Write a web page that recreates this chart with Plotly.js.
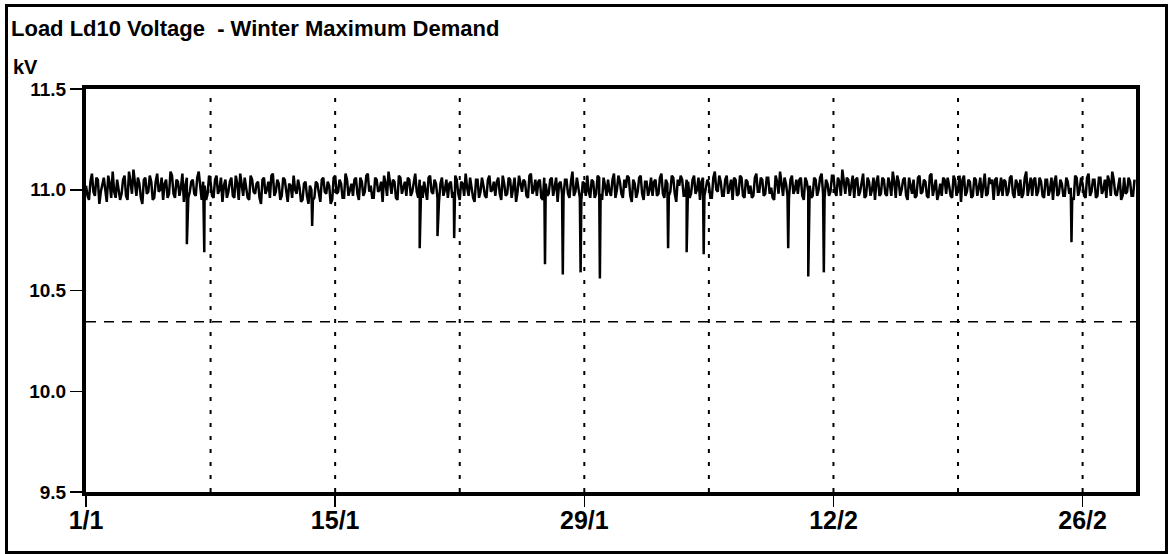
<!DOCTYPE html>
<html>
<head>
<meta charset="utf-8">
<script src="https://cdn.plot.ly/plotly-3.0.1.min.js"></script>
<style>
  html, body { margin: 0; padding: 0; background: #fff; }
  #wrap { position: relative; width: 1170px; height: 554px; }
  #frame { position: absolute; left: 5px; top: 4px; width: 1163px; height: 550px; border: 3px solid #000; box-sizing: border-box; pointer-events: none; }
  #chart { position: absolute; left: 0; top: 0; width: 1170px; height: 554px; }
</style>
</head>
<body>
<div id="wrap">
  <div id="frame"></div>
  <div id="chart"></div>
</div>
<script>
// ---- Data ----
const chartTitle = 'Load Ld10 Voltage  - Winter Maximum Demand';
const yUnit = 'kV';
const seriesStart = '2001-01-01 00:00';
const stepHours = 4;               // each list holds six readings per day
const midOffsetHours = 2;          // second list is taken between the first
// Voltage readings (kV) at 00,04,08,12,16,20 h, one line per day, 1 Jan .. 28 Feb
const baseVoltage = [
  11.02, 10.95, 11.08, 10.97, 11.05, 10.99,
  11.06, 10.94, 11.03, 11.09, 10.96, 11.01,
  10.98, 11.07, 10.95, 11.04, 11.10, 10.97,
  11.03, 10.93, 11.06, 10.99, 11.04, 10.96,
  11.08, 11.00, 10.95, 11.05, 10.98, 11.07,
  10.96, 11.04, 11.01, 10.94, 11.06, 10.99,
  11.05, 10.97, 11.09, 10.95, 11.02, 10.98,
  11.04, 10.96, 11.07, 11.00, 10.94, 11.05,
  10.99, 11.06, 10.96, 11.03, 11.08, 10.97,
  11.02, 10.95, 11.05, 10.98, 11.04, 10.93,
  11.06, 11.00, 10.96, 11.08, 10.99, 11.03,
  10.97, 11.05, 10.94, 11.02, 11.07, 10.98,
  11.01, 10.95, 11.04, 10.93, 11.00, 10.96,
  11.03, 10.94, 11.06, 10.98, 11.02, 10.95,
  11.07, 10.99, 11.03, 10.96, 11.05, 11.00,
  10.97, 11.06, 10.95, 11.04, 10.99, 11.08,
  11.02, 10.96, 11.05, 11.00, 10.94, 11.03,
  11.09, 10.98, 11.04, 10.95, 11.06, 11.01,
  10.97, 11.05, 10.99, 11.08, 10.96, 11.02,
  11.04, 10.95, 11.07, 10.98, 11.03, 10.94,
  11.06, 11.00, 10.96, 11.04, 10.99, 11.05,
  10.95, 11.03, 11.08, 10.97, 11.01, 10.94,
  11.05, 10.99, 11.02, 10.96, 11.07, 11.00,
  10.97, 11.06, 10.95, 11.03, 10.98, 11.05,
  11.01, 10.94, 11.07, 10.99, 11.04, 10.96,
  11.08, 11.00, 10.97, 11.05, 10.95, 11.03,
  10.98, 11.06, 11.01, 10.94, 11.04, 10.97,
  11.05, 10.96, 11.09, 10.99, 11.02, 10.95,
  11.03, 11.07, 10.96, 11.04, 10.98, 11.06,
  10.95, 11.02, 11.05, 10.97, 11.08, 11.00,
  11.04, 10.96, 11.01, 11.06, 10.94, 11.03,
  10.99, 11.07, 10.95, 11.04, 11.00, 10.97,
  11.05, 10.98, 11.08, 10.96, 11.03, 10.99,
  11.06, 10.94, 11.02, 11.05, 10.97, 11.04,
  10.98, 11.07, 11.00, 10.95, 11.06, 11.01,
  11.03, 10.96, 11.09, 10.99, 11.04, 10.97,
  11.07, 11.01, 10.95, 11.05, 10.98, 11.06,
  10.96, 11.04, 11.02, 10.97, 11.08, 10.99,
  11.05, 10.98, 11.06, 11.01, 10.95, 11.04,
  11.09, 10.97, 11.03, 10.96, 11.07, 11.00,
  10.98, 11.06, 10.95, 11.04, 11.02, 10.97,
  11.05, 11.00, 11.08, 10.96, 11.03, 10.99,
  11.07, 10.97, 11.04, 11.10, 10.98, 11.05,
  11.01, 10.96, 11.06, 10.99, 11.08, 10.97,
  11.04, 11.00, 10.95, 11.07, 10.98, 11.05,
  10.97, 11.03, 11.09, 10.96, 11.04, 11.00,
  11.06, 10.95, 11.02, 11.05, 10.97, 11.07,
  10.99, 11.04, 10.96, 11.08, 11.01, 10.95,
  11.03, 11.06, 10.98, 11.02, 10.96, 11.05,
  11.00, 10.94, 11.07, 10.99, 11.04, 10.97,
  11.05, 11.01, 10.96, 11.08, 10.98, 11.03,
  10.95, 11.06, 11.00, 10.97, 11.04, 10.99,
  11.07, 10.96, 11.03, 11.05, 10.98, 11.09,
  11.01, 10.97, 11.06, 10.99, 11.04, 10.96,
  11.05, 11.00, 10.95, 11.07, 10.98, 11.03,
  10.97, 11.04, 11.01, 10.95, 11.06, 11.00,
  11.03, 10.96, 11.08, 10.99, 11.05, 10.97,
  11.06, 11.00, 10.96, 11.04, 11.09, 10.98,
  11.02, 10.95, 11.06, 10.99, 11.04, 10.97
];
// Voltage readings (kV) at 02,06,10,14,18,22 h, one line per day
const midVoltage = [
  10.97, 11.04, 10.99, 11.06, 10.93, 11.03,
  11.00, 11.07, 10.96, 10.99, 11.05, 10.95,
  11.05, 10.97, 11.09, 10.98, 11.02, 11.06,
  10.96, 11.05, 10.98, 11.07, 10.95, 11.04,
  10.99, 11.06, 11.03, 10.96, 11.09, 10.98,
  11.05, 10.97, 11.08, 11.02, 10.96, 11.04,
  10.98, 11.06, 11.00, 11.04, 10.95, 11.07,
  10.97, 11.05, 10.98, 11.06, 11.02, 10.96,
  11.04, 10.97, 11.07, 10.95, 11.01, 11.06,
  10.96, 11.07, 10.99, 11.03, 10.96, 11.05,
  10.98, 11.04, 11.07, 10.97, 11.05, 10.95,
  11.06, 10.99, 11.03, 10.96, 11.00, 11.05,
  10.94, 11.03, 10.97, 11.02, 10.95, 11.04,
  10.97, 11.05, 10.99, 11.04, 10.93, 11.06,
  10.98, 11.05, 10.96, 11.08, 10.97, 11.03,
  11.05, 10.98, 11.06, 10.97, 11.07, 10.99,
  10.96, 11.06, 10.99, 11.04, 11.07, 10.97,
  11.02, 11.05, 10.96, 11.07, 10.98, 11.04,
  11.06, 10.97, 11.04, 10.99, 11.05, 10.96,
  10.98, 11.06, 10.99, 11.05, 10.96, 11.03,
  10.97, 11.05, 11.03, 10.96, 11.07, 10.98,
  11.04, 10.97, 11.01, 11.06, 10.96, 11.05,
  10.96, 11.06, 10.97, 11.05, 10.99, 11.04,
  11.04, 10.98, 11.07, 10.97, 11.06, 10.96,
  11.06, 10.99, 11.02, 11.05, 10.97, 11.07,
  10.98, 11.05, 11.04, 10.96, 11.06, 10.97,
  11.05, 10.97, 11.06, 11.03, 10.98, 11.05,
  10.98, 11.04, 10.97, 11.06, 10.96, 11.04,
  10.97, 10.99, 11.05, 10.96, 11.07, 10.98,
  11.06, 10.97, 10.99, 11.05, 10.96, 11.07,
  10.98, 11.05, 11.07, 10.97, 11.05, 10.96,
  11.06, 10.98, 11.04, 10.97, 11.06, 11.04,
  10.97, 11.06, 10.98, 11.05, 10.97, 11.07,
  10.98, 11.05, 11.07, 10.97, 11.05, 10.96,
  11.05, 10.98, 11.06, 11.04, 10.97, 11.05,
  10.96, 11.06, 11.00, 11.07, 10.97, 11.05,
  10.98, 11.05, 11.06, 10.97, 11.07, 10.97,
  11.05, 10.98, 10.96, 11.06, 10.99, 11.06,
  10.97, 11.06, 10.98, 10.96, 11.07, 10.98,
  11.02, 11.06, 10.97, 11.05, 10.98, 11.05,
  11.05, 10.97, 11.06, 10.99, 10.96, 11.06,
  10.97, 11.06, 10.98, 11.05, 10.97, 11.07,
  10.99, 11.06, 10.97, 11.04, 11.06, 10.97,
  11.07, 11.05, 10.97, 11.05, 10.96, 11.06,
  10.97, 11.06, 11.04, 10.97, 11.06, 10.98,
  11.06, 10.97, 11.04, 11.07, 10.97, 11.05,
  10.97, 11.06, 10.98, 10.96, 11.06, 10.98,
  11.05, 10.97, 11.07, 10.97, 11.05, 10.98,
  10.97, 11.05, 11.06, 10.97, 11.07, 10.97,
  11.07, 11.05, 10.97, 11.05, 10.96, 11.06,
  10.97, 11.06, 11.04, 10.97, 11.06, 11.05,
  11.05, 10.97, 11.06, 11.05, 10.97, 11.06,
  10.98, 11.05, 10.97, 10.96, 11.06, 10.97,
  11.06, 11.05, 10.97, 11.06, 10.97, 11.05,
  10.97, 11.06, 11.04, 10.97, 11.05, 10.97,
  11.06, 10.98, 10.96, 11.07, 10.97, 11.06,
  10.97, 11.06, 10.97, 11.05, 10.96, 11.06,
  10.98, 11.05, 11.07, 10.97, 11.05, 10.97,
  11.06, 10.97, 10.98, 11.06, 10.97, 11.05
];
// Short voltage dips
const dipTimes = [
  '2001-01-06 16:00', '2001-01-07 15:30', '2001-01-13 17:00',
  '2001-01-19 18:00', '2001-01-20 18:00', '2001-01-21 16:30',
  '2001-01-26 19:00', '2001-01-27 19:00', '2001-01-28 19:00', '2001-01-29 21:00',
  '2001-02-02 17:00', '2001-02-03 18:00', '2001-02-04 17:00',
  '2001-02-09 11:00', '2001-02-10 14:00', '2001-02-11 11:00',
  '2001-02-25 09:00'
];
const dipValues = [
  10.73, 10.69, 10.82,
  10.71, 10.77, 10.76,
  10.63, 10.58, 10.59, 10.56,
  10.71, 10.69, 10.68,
  10.71, 10.57, 10.59,
  10.74
];
const referenceLevel = 10.345;     // dashed horizontal limit line
const weekLines = ['2001-01-08', '2001-01-15', '2001-01-22', '2001-01-29',
                   '2001-02-05', '2001-02-12', '2001-02-19', '2001-02-26'];
const xTickVals = ['2001-01-01', '2001-01-15', '2001-01-29', '2001-02-12', '2001-02-26'];
const xTickText = ['1/1', '15/1', '29/1', '12/2', '26/2'];
const xRange = ['2001-01-01', '2001-03-01'];
const yRange = [9.5, 11.5];
const yTicks = [9.5, 10.0, 10.5, 11.0, 11.5];

// ---- Build the series (readings merged with dips, in time order) ----
function toMs(s) { return new Date(s.replace(' ', 'T') + ':00Z').getTime(); }
const H = 3600000;
const t0 = toMs(seriesStart);
const pts = [];
baseVoltage.forEach((v, i) => pts.push([t0 + i * stepHours * H, v]));
midVoltage.forEach((v, i) => pts.push([t0 + (i * stepHours + midOffsetHours) * H, v]));
dipTimes.forEach((t, i) => pts.push([toMs(t), dipValues[i]]));
pts.sort((a, b) => a[0] - b[0]);
function fmt(ms) { return new Date(ms).toISOString().slice(0, 19).replace('T', ' '); }
const xs = pts.map(p => fmt(p[0]));
const ys = pts.map(p => p[1]);

const FONT = 'Liberation Sans, Arial, Helvetica, sans-serif';

const trace = {
  type: 'scatter', mode: 'lines', x: xs, y: ys,
  line: { color: '#000', width: 2.5 }, hoverinfo: 'skip', showlegend: false
};

const shapes = weekLines.map(d => ({
  type: 'line', xref: 'x', x0: d, x1: d, yref: 'paper', y0: 0, y1: 1,
  line: { color: '#000', width: 2, dash: '4px,9px' }, layer: 'below'
}));
shapes.push({
  type: 'line', xref: 'paper', x0: 0, x1: 1, yref: 'y', y0: referenceLevel, y1: referenceLevel,
  line: { color: '#000', width: 1.6, dash: '10px,8px' }, layer: 'below'
});

const layout = {
  width: 1170, height: 554,
  margin: { l: 86, r: 34, t: 89, b: 62 },
  paper_bgcolor: 'rgba(0,0,0,0)', plot_bgcolor: '#fff',
  title: {
    text: chartTitle, xref: 'container', yref: 'container',
    x: 11 / 1170, xanchor: 'left', y: 1 - 21 / 554, yanchor: 'top',
    font: { family: FONT, size: 22, color: '#000', weight: 'bold' }
  },
  xaxis: {
    type: 'date', range: xRange,
    tickmode: 'array', tickvals: xTickVals, ticktext: xTickText,
    ticks: 'outside', ticklen: 11, tickwidth: 1.5, tickcolor: '#000',
    ticklabelstandoff: -8,
    showline: true, linewidth: 4, linecolor: '#000', mirror: true,
    showgrid: false, zeroline: false, fixedrange: true,
    tickfont: { family: FONT, size: 25, color: '#000', weight: 'bold' }
  },
  yaxis: {
    range: yRange, tickvals: yTicks, tickformat: '.1f',
    ticks: 'outside', ticklen: 12, tickwidth: 1.5, tickcolor: '#000',
    showline: true, linewidth: 4, linecolor: '#000', mirror: true,
    showgrid: false, zeroline: false, fixedrange: true,
    tickfont: { family: FONT, size: 19, color: '#000', weight: 'bold' }
  },
  shapes: shapes,
  annotations: [{
    text: yUnit, xref: 'paper', yref: 'paper',
    x: (11 - 86) / 1050, xanchor: 'left', y: (492 - 54) / 403, yanchor: 'top',
    showarrow: false, font: { family: FONT, size: 20, color: '#000', weight: 'bold' }
  }]
};

Plotly.newPlot('chart', [trace], layout, { staticPlot: true, displayModeBar: false });
</script>
</body>
</html>
